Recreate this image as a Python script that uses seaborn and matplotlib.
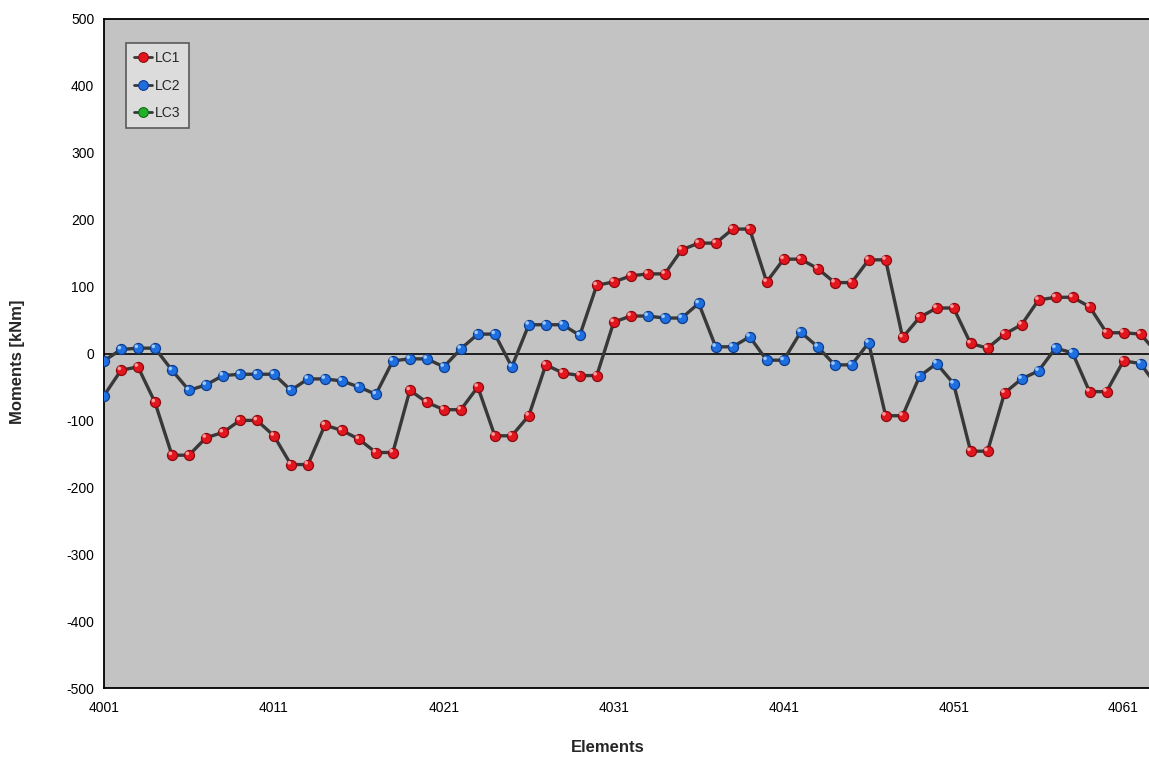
import numpy as np
import pandas as pd
import matplotlib
matplotlib.use("Agg")
import matplotlib.pyplot as plt
from matplotlib.lines import Line2D
from matplotlib.transforms import offset_copy
import seaborn as sns

# Element numbers along the beam
elements = list(range(4001, 4064))

# Upper envelope of the bending moment [kNm] and the governing load case
upper_moment = [-11, 6, 8, 8, -25, -55, -47, -33, -31, -31,
                -31, -55, -38, -38, -41, -50, -61, -11, -8, -8,
                -20, 7, 29, 29, -20, 43, 43, 43, 27, 102,
                107, 116, 119, 119, 155, 165, 165, 186, 186, 107,
                141, 141, 127, 106, 106, 140, 140, 24, 54, 68,
                68, 15, 8, 29, 43, 80, 84, 84, 70, 31,
                31, 29, 0]
upper_case = (["LC2"] * 29) + (["LC1"] * 34)

# Lower envelope of the bending moment [kNm] and the governing load case
lower_moment = [-63, -25, -20, -73, -152, -152, -126, -118, -100, -100,
                -123, -166, -166, -107, -115, -128, -148, -148, -55, -73,
                -84, -84, -50, -123, -123, -93, -17, -29, -33, -33,
                47, 56, 56, 53, 53, 75, 10, 10, 25, -10,
                -10, 32, 10, -17, -17, 16, -93, -93, -34, -15,
                -45, -146, -146, -59, -38, -26, 8, 1, -57, -57,
                -11, -15, -50]
lower_case = (["LC2"] + ["LC1"] * 31 + ["LC2"] * 14 + ["LC1"] * 2
              + ["LC2"] * 3 + ["LC1"] * 3 + ["LC2"] * 4 + ["LC1"] * 3
              + ["LC2"] * 2)

load_cases = ["LC1", "LC2", "LC3"]
case_face = {"LC1": "#e3161f", "LC2": "#1f6fe0", "LC3": "#22b02a"}
case_edge = {"LC1": "#8c0a0f", "LC2": "#0c3c8c", "LC3": "#0e6a14"}
case_light = {"LC1": "#ff9a9a", "LC2": "#9cc8ff", "LC3": "#9cf0a0"}

y_ticks = list(range(-500, 501, 100))
x_ticks = [4001, 4011, 4021, 4031, 4041, 4051, 4061]

df = pd.concat([
    pd.DataFrame({"element": elements, "moment": upper_moment,
                  "envelope": "upper", "case": upper_case}),
    pd.DataFrame({"element": elements, "moment": lower_moment,
                  "envelope": "lower", "case": lower_case}),
], ignore_index=True)

sns.set_style("white")
plt.rcParams["font.family"] = ["Liberation Sans", "DejaVu Sans"]

fig = plt.figure(figsize=(11.49, 7.6), dpi=100)
ax = fig.add_axes([104 / 1149, 72 / 760, 1045 / 1149, 669 / 760])
ax.set_facecolor("#c3c3c3")

ax.axhline(0, color="#111111", lw=1.3, zorder=1)

sns.lineplot(data=df, x="element", y="moment", units="envelope",
             estimator=None, color="#383838", lw=2.4, ax=ax,
             legend=False, zorder=2)

highlight = offset_copy(ax.transData, fig=fig, x=-1.2, y=1.3, units="points")
for case in load_cases:
    sub = df[df["case"] == case]
    if sub.empty:
        continue
    sns.scatterplot(data=sub, x="element", y="moment", color=case_face[case],
                    edgecolor=case_edge[case], linewidth=0.9, s=52,
                    ax=ax, legend=False, zorder=3)
    sns.scatterplot(data=sub, x="element", y="moment", color=case_light[case],
                    edgecolor="none", s=7, ax=ax, legend=False, zorder=4,
                    transform=highlight)

ax.set_xlim(4001, 4062.5)
ax.set_ylim(-500, 500)
ax.set_xticks(x_ticks)
ax.set_xticklabels([str(t) for t in x_ticks])
ax.set_yticks(y_ticks)
ax.set_yticklabels([str(t) for t in y_ticks])
ax.tick_params(axis="both", direction="out", length=5, width=1,
               color="black", labelsize=10, labelcolor="black")
ax.tick_params(axis="y", pad=2)
ax.tick_params(axis="x", pad=4)
ax.set_xlabel("")
ax.set_ylabel("")

for side in ("left", "bottom", "top"):
    ax.spines[side].set_color("black")
    ax.spines[side].set_linewidth(1.3)
ax.spines["right"].set_visible(False)

fig.text(608 / 1149, 1 - 748 / 760, "Elements", ha="center", va="center",
         fontsize=12, fontweight="bold")
fig.text(18 / 1149, 1 - 362 / 760, "Moments [kNm]", ha="center", va="center",
         rotation=90, fontsize=12, fontweight="bold")

handles = [
    Line2D([0], [0], color="#383838", lw=2, marker="o", markersize=7,
           markerfacecolor=case_face[c], markeredgecolor=case_edge[c],
           markeredgewidth=0.8)
    for c in load_cases
]
leg = ax.legend(handles, load_cases, loc="upper left",
                bbox_to_anchor=(22 / 1045, (688 - 43) / 669),
                borderaxespad=0, frameon=True, fancybox=False,
                facecolor="#dcdcdc", edgecolor="#5a5a5a", framealpha=1,
                fontsize=10, handlelength=1.3, handletextpad=0.2,
                labelspacing=0.95, borderpad=0.6)
leg.get_frame().set_linewidth(1.2)

fig.savefig("out.png", dpi=100)
